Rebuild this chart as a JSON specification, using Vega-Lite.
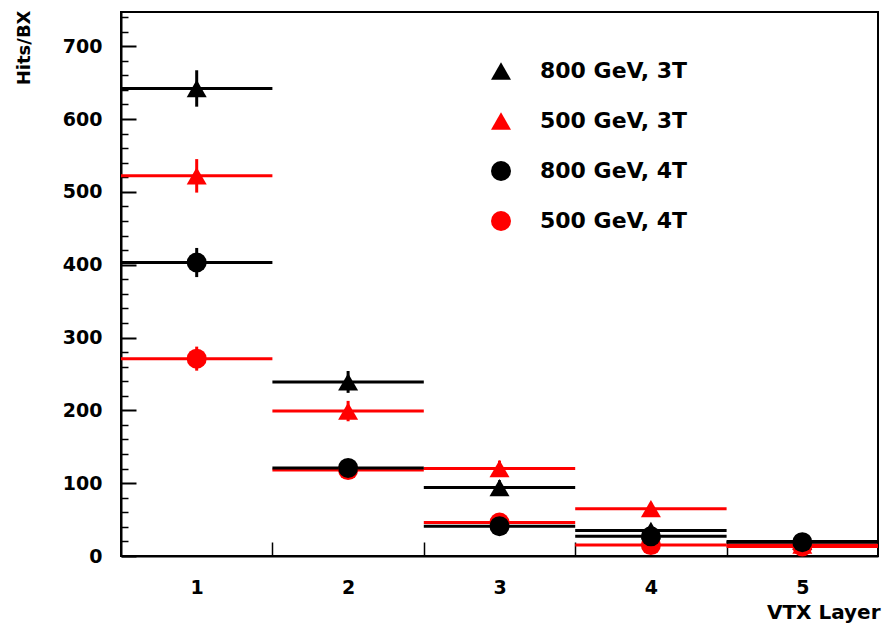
{
  "$schema": "https://vega.github.io/schema/vega-lite/v6.json",
  "width": 757,
  "height": 544,
  "autosize": {"type": "none"},
  "padding": {"left": 121, "top": 12, "right": 4, "bottom": 71},
  "background": "white",
  "config": {
    "font": "DejaVu Sans",
    "view": {"stroke": "black", "strokeWidth": 2},
    "axis": {"grid": false, "domainColor": "black", "tickColor": "black", "labelColor": "black", "titleColor": "black"}
  },
  "data": {
    "values": [
      {"series": "800 GeV, 3T", "layer": 1, "xlo": 0.5, "xhi": 1.5, "hits": 642, "err": 25},
      {"series": "800 GeV, 3T", "layer": 2, "xlo": 1.5, "xhi": 2.5, "hits": 239, "err": 15},
      {"series": "800 GeV, 3T", "layer": 3, "xlo": 2.5, "xhi": 3.5, "hits": 94, "err": 10},
      {"series": "800 GeV, 3T", "layer": 4, "xlo": 3.5, "xhi": 4.5, "hits": 35, "err": 6},
      {"series": "800 GeV, 3T", "layer": 5, "xlo": 4.5, "xhi": 5.5, "hits": 20, "err": 4.5},
      {"series": "500 GeV, 3T", "layer": 1, "xlo": 0.5, "xhi": 1.5, "hits": 522, "err": 23},
      {"series": "500 GeV, 3T", "layer": 2, "xlo": 1.5, "xhi": 2.5, "hits": 199, "err": 14},
      {"series": "500 GeV, 3T", "layer": 3, "xlo": 2.5, "xhi": 3.5, "hits": 120, "err": 11},
      {"series": "500 GeV, 3T", "layer": 4, "xlo": 3.5, "xhi": 4.5, "hits": 65, "err": 8},
      {"series": "500 GeV, 3T", "layer": 5, "xlo": 4.5, "xhi": 5.5, "hits": 15, "err": 4},
      {"series": "500 GeV, 4T", "layer": 1, "xlo": 0.5, "xhi": 1.5, "hits": 271, "err": 16.5},
      {"series": "500 GeV, 4T", "layer": 2, "xlo": 1.5, "xhi": 2.5, "hits": 118, "err": 11},
      {"series": "500 GeV, 4T", "layer": 3, "xlo": 2.5, "xhi": 3.5, "hits": 46, "err": 7},
      {"series": "500 GeV, 4T", "layer": 4, "xlo": 3.5, "xhi": 4.5, "hits": 15, "err": 4},
      {"series": "500 GeV, 4T", "layer": 5, "xlo": 4.5, "xhi": 5.5, "hits": 13, "err": 3.5},
      {"series": "800 GeV, 4T", "layer": 1, "xlo": 0.5, "xhi": 1.5, "hits": 403, "err": 20},
      {"series": "800 GeV, 4T", "layer": 2, "xlo": 1.5, "xhi": 2.5, "hits": 121, "err": 11},
      {"series": "800 GeV, 4T", "layer": 3, "xlo": 2.5, "xhi": 3.5, "hits": 41, "err": 6.5},
      {"series": "800 GeV, 4T", "layer": 4, "xlo": 3.5, "xhi": 4.5, "hits": 27, "err": 5},
      {"series": "800 GeV, 4T", "layer": 5, "xlo": 4.5, "xhi": 5.5, "hits": 19, "err": 4.4}
    ]
  },
  "layer": [
    {
      "mark": {"type": "rule", "strokeWidth": 3},
      "encoding": {
        "x": {
          "field": "xlo", "type": "quantitative",
          "scale": {"domain": [0.5, 5.5], "nice": false, "zero": false},
          "axis": {
            "orient": "bottom",
            "values": [1, 2, 3, 4, 5], "ticks": false, "domain": true, "domainWidth": 2,
            "labelFont": "DejaVu Sans", "labelFontSize": 19, "labelFontWeight": "bold", "labelPadding": 22,
            "title": "VTX Layer", "titleFont": "DejaVu Sans", "titleFontSize": 20, "titleFontWeight": "bold",
            "titleX": 759, "titleY": 56, "titleAlign": "right", "titleBaseline": "middle"
          }
        },
        "x2": {"field": "xhi"},
        "y": {
          "field": "hits", "type": "quantitative",
          "scale": {"domain": [0, 747], "nice": false, "zero": true},
          "axis": {
            "orient": "left",
            "values": [0, 100, 200, 300, 400, 500, 600, 700], "ticks": false, "domain": true, "domainWidth": 2,
            "labelFont": "DejaVu Sans", "labelFontSize": 19, "labelFontWeight": "bold", "labelPadding": 19,
            "title": "Hits/BX", "titleFont": "DejaVu Sans", "titleFontSize": 18, "titleFontWeight": "bold",
            "titleAngle": -90, "titleX": -97, "titleY": -2, "titleAlign": "right", "titleBaseline": "middle"
          }
        },
        "color": {
          "field": "series", "type": "nominal",
          "scale": {"domain": ["500 GeV, 3T", "500 GeV, 4T", "800 GeV, 3T", "800 GeV, 4T"], "range": ["#ff0000", "#ff0000", "#000000", "#000000"]},
          "legend": null
        }
      }
    },
    {
      "mark": {"type": "errorbar", "ticks": false, "thickness": 3},
      "encoding": {
        "x": {
          "field": "layer", "type": "quantitative",
          "axis": {"orient": "bottom", "values": [1.5, 2.5, 3.5, 4.5], "labels": false, "domain": false, "tickSize": -14, "tickWidth": 1.5, "title": null}
        },
        "y": {
          "field": "hits", "type": "quantitative",
          "axis": {"orient": "left", "values": [0, 100, 200, 300, 400, 500, 600, 700], "labels": false, "domain": false, "tickSize": -15, "tickWidth": 2, "title": null}
        },
        "yError": {"field": "err"},
        "color": {"field": "series", "type": "nominal", "legend": null}
      }
    },
    {
      "mark": {"type": "point", "filled": true, "size": 400, "opacity": 1, "strokeWidth": 0},
      "encoding": {
        "x": {"field": "layer", "type": "quantitative", "axis": null},
        "y": {
          "field": "hits", "type": "quantitative",
          "axis": {"orient": "left", "values": [20, 40, 60, 80, 120, 140, 160, 180, 220, 240, 260, 280, 320, 340, 360, 380, 420, 440, 460, 480, 520, 540, 560, 580, 620, 640, 660, 680, 720, 740], "labels": false, "domain": false, "tickSize": -7, "tickWidth": 1.5, "title": null}
        },
        "fill": {
          "field": "series", "type": "nominal",
          "scale": {"domain": ["800 GeV, 3T", "500 GeV, 3T", "800 GeV, 4T", "500 GeV, 4T"], "range": ["#000000", "#ff0000", "#000000", "#ff0000"]},
          "legend": {
            "title": null, "orient": "none", "legendX": 369, "legendY": 48, "padding": 0,
            "labelFont": "DejaVu Sans", "labelFontSize": 22, "labelFontWeight": "bold", "labelColor": "black",
            "labelOffset": 28, "symbolSize": 400, "symbolStrokeWidth": 0, "rowPadding": 28, "labelLimit": 300
          }
        },
        "shape": {
          "field": "series", "type": "nominal",
          "scale": {"domain": ["800 GeV, 3T", "500 GeV, 3T", "800 GeV, 4T", "500 GeV, 4T"], "range": ["triangle-up", "triangle-up", "circle", "circle"]},
          "legend": {
            "title": null, "orient": "none", "legendX": 369, "legendY": 48, "padding": 0,
            "labelFont": "DejaVu Sans", "labelFontSize": 22, "labelFontWeight": "bold", "labelColor": "black",
            "labelOffset": 28, "symbolSize": 400, "symbolStrokeWidth": 0, "rowPadding": 28, "labelLimit": 300
          }
        }
      }
    }
  ],
  "resolve": {"axis": {"x": "independent", "y": "independent"}}
}
